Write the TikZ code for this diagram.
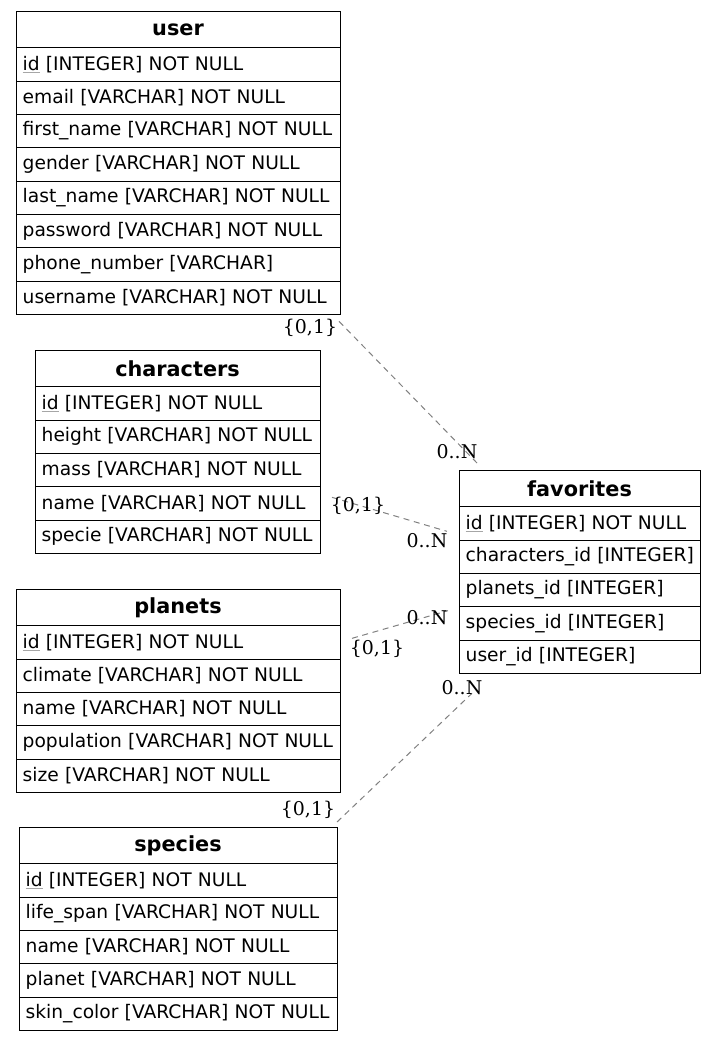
\documentclass[tikz,border=0pt]{standalone}
\usepackage{fontspec}
\setmainfont{DejaVu Sans}
\newfontfamily\cardfont{DejaVu Serif}
\usetikzlibrary{positioning}

\newsavebox\keybox
\newcommand{\pkey}[1]{\sbox\keybox{#1}\rlap{\color{gray!70}\rule[-1.8pt]{\wd\keybox}{0.6pt}}\usebox\keybox}

\tikzset{
  tblhead/.style={draw, line width=0.75pt, outer sep=0pt, inner sep=0pt, anchor=north west,
    minimum height=27.5pt, font=\fontsize{15.6}{18}\selectfont\bfseries},
  tblrow/.style 2 args={draw, line width=0.75pt, outer sep=0pt, inner xsep=5pt, inner ysep=0pt,
    minimum height=25pt, minimum width=#1, text width=#2, align=left, font=\fontsize{14}{16}\selectfont},
  card/.style={font=\cardfont\fontsize{14.2}{16}\selectfont, inner sep=0pt},
  rel/.style={draw=gray, line width=0.75pt, dash pattern=on 4.5pt off 3.5pt}
}

\begin{document}
\begin{tikzpicture}[x=0.75pt, y=-0.75pt]
  \useasboundingbox (0,0) rectangle (716,1042);

  % tables
  \node[tblhead, minimum width=243pt, alias=user-0] (user) at (16,11) {user};
  \foreach \f [count=\i, remember=\i as \j (initially 0)] in {\pkey{id} [INTEGER] NOT NULL, email [VARCHAR] NOT NULL,
      first\_name [VARCHAR] NOT NULL, gender [VARCHAR] NOT NULL, last\_name [VARCHAR] NOT NULL,
      password [VARCHAR] NOT NULL, phone\_number [VARCHAR], username [VARCHAR] NOT NULL}
    \node[tblrow={243pt}{233pt}, below=0pt of user-\j] (user-\i) {\mbox{\f}};

  \node[tblhead, minimum width=213.75pt, alias=characters-0] (characters) at (35,350) {characters};
  \foreach \f [count=\i, remember=\i as \j (initially 0)] in {\pkey{id} [INTEGER] NOT NULL, height [VARCHAR] NOT NULL,
      mass [VARCHAR] NOT NULL, name [VARCHAR] NOT NULL, specie [VARCHAR] NOT NULL}
    \node[tblrow={213.75pt}{203.75pt}, below=0pt of characters-\j] (characters-\i) {\mbox{\f}};

  \node[tblhead, minimum width=243pt, alias=planets-0] (planets) at (16,589) {planets};
  \foreach \f [count=\i, remember=\i as \j (initially 0)] in {\pkey{id} [INTEGER] NOT NULL, climate [VARCHAR] NOT NULL,
      name [VARCHAR] NOT NULL, population [VARCHAR] NOT NULL, size [VARCHAR] NOT NULL}
    \node[tblrow={243pt}{233pt}, below=0pt of planets-\j] (planets-\i) {\mbox{\f}};

  \node[tblhead, minimum width=238.5pt, alias=species-0] (species) at (19,827) {species};
  \foreach \f [count=\i, remember=\i as \j (initially 0)] in {\pkey{id} [INTEGER] NOT NULL, life\_span [VARCHAR] NOT NULL,
      name [VARCHAR] NOT NULL, planet [VARCHAR] NOT NULL, skin\_color [VARCHAR] NOT NULL}
    \node[tblrow={238.5pt}{228.5pt}, below=0pt of species-\j] (species-\i) {\mbox{\f}};

  \node[tblhead, minimum width=180.75pt, alias=favorites-0] (favorites) at (459,470) {favorites};
  \foreach \f [count=\i, remember=\i as \j (initially 0)] in {\pkey{id} [INTEGER] NOT NULL, characters\_id [INTEGER],
      planets\_id [INTEGER], species\_id [INTEGER], user\_id [INTEGER]}
    \node[tblrow={180.75pt}{170.75pt}, below=0pt of favorites-\j] (favorites-\i) {\mbox{\f}};

  % relations
  \coordinate (uf-a) at ([shift={(-1,7)}]user-8.south east);
  \coordinate (uf-b) at ([shift={(18,-7)}]favorites.north west);
  \coordinate (cf-a) at ([shift={(12,-6)}]characters-4.east);
  \coordinate (cf-b) at ([shift={(-12,8)}]favorites-1.west);
  \coordinate (pf-a) at ([shift={(12,-4)}]planets-1.east);
  \coordinate (pf-b) at ([shift={(-11,4)}]favorites-3.south west);
  \coordinate (sf-a) at ([shift={(0,-5)}]species.north east);
  \coordinate (sf-b) at ([shift={(13,20)}]favorites-5.south west);

  \draw[rel] (uf-a) -- (uf-b);
  \draw[rel] (cf-a) -- (cf-b);
  \draw[rel] (pf-a) -- (pf-b);
  \draw[rel] (sf-a) -- (sf-b);

  \node[card] (uf-1) at (310,328) {\{0,1\}};
  \node[card] (uf-n) at (457,452) {0..N};
  \node[card] (cf-1) at (358,506) {\{0,1\}};
  \node[card] (cf-n) at (427,541) {0..N};
  \node[card] (pf-n) at (427,618) {0..N};
  \node[card] (pf-1) at (377,649) {\{0,1\}};
  \node[card] (sf-n) at (462,688) {0..N};
  \node[card] (sf-1) at (308,810) {\{0,1\}};
\end{tikzpicture}
\end{document}
